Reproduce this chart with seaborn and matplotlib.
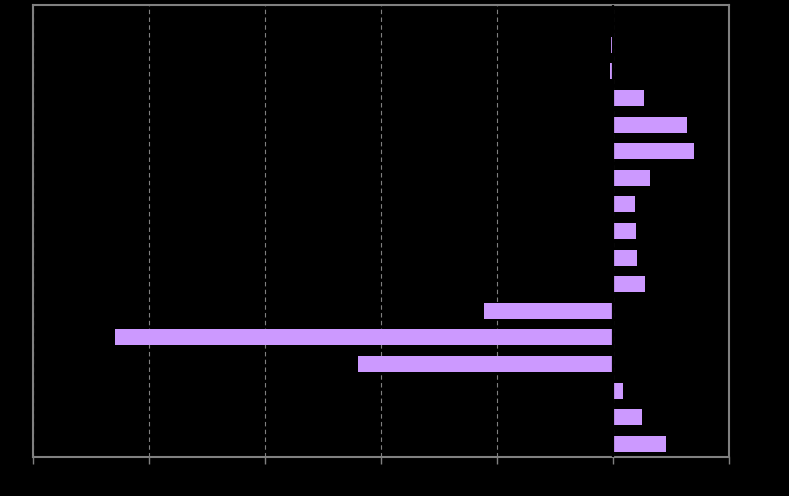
import matplotlib
matplotlib.use("Agg")
import matplotlib.pyplot as plt
import seaborn as sns
import numpy as np
import pandas as pd

categories = ["", "C1", "C2", "C3", "C4", "C5", "C6", "C7", "C8", "C9",
              "C10", "C11", "C12", "C13", "C14", "C15", "C16"]
values = [np.nan, -0.15, -0.25, 2.7, 6.4, 7.0, 3.2, 1.9, 2.0, 2.1, 2.8,
          -11.1, -42.9, -22.0, 0.9, 2.5, 4.6]
x_ticks = [-50, -40, -30, -20, -10, 0, 10]

df = pd.DataFrame({"category": categories, "value": values})

sns.set_style("dark")
fig = plt.figure(figsize=(7.89, 4.96), dpi=100, facecolor="black")
ax = fig.add_axes([33/789, 1-457/496, (729-33)/789, (457-5)/496])
ax.set_facecolor("black")

sns.barplot(data=df, y="category", x="value", order=categories, orient="h",
            color="#CC99FF", saturation=1, linewidth=0,
            width=0.6, ax=ax, zorder=3)

ax.axvline(0, color="black", linewidth=1.6, zorder=4)
ax.set_xlim(-50, 10)
ax.set_ylim(16.5, -0.5)
ax.set_xticks(x_ticks)
ax.set_xticklabels([str(t) for t in x_ticks], color="black")
ax.set_yticklabels(categories, color="black")
ax.set_xlabel("")
ax.set_ylabel("")
ax.grid(False)
ax.xaxis.grid(True, linestyle=(0, (4, 3)), color="#808080", linewidth=0.8, zorder=0)
ax.tick_params(axis="x", length=5, color="#808080", width=1, bottom=True)
ax.tick_params(axis="y", length=0, left=False)
for s in ax.spines.values():
    s.set_visible(True)
    s.set_color("#808080")
    s.set_linewidth(1.5)

fig.savefig("out.png", dpi=100, facecolor="black")
